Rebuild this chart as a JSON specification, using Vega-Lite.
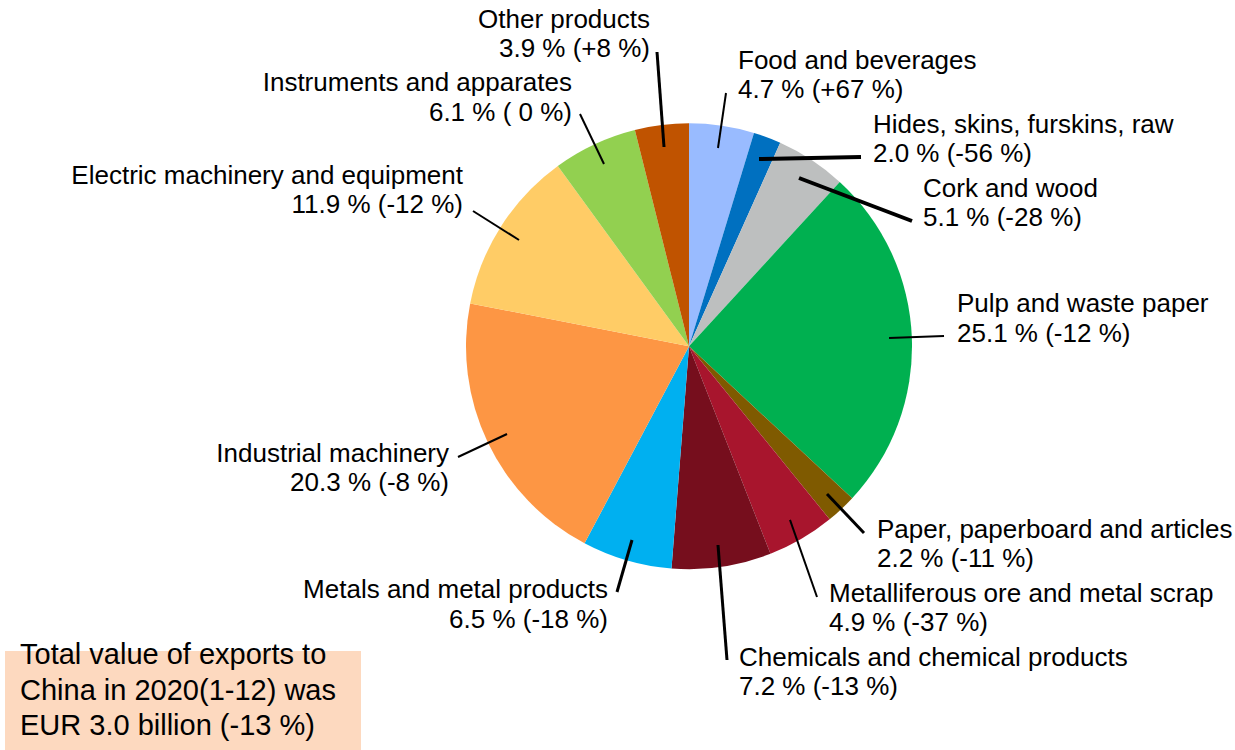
{
  "$schema": "https://vega.github.io/schema/vega-lite/v6.json",
  "width": 1235,
  "height": 750,
  "autosize": {"type": "none"},
  "padding": 0,
  "background": "white",
  "config": {"view": {"stroke": null}, "font": "Liberation Sans"},
  "datasets": {
    "slices": [
      {"ord": 1, "name": "Food and beverages", "share": 4.7, "change": "+67", "lx": 21.97, "ly": 124.35, "ax": 16.59, "ay": 113.59, "bx": 13.0, "by": 88.92},
      {"ord": 2, "name": "Hides, skins, furskins, raw", "share": 2.0, "change": "-56", "lx": 82.51, "ly": 95.65, "ax": 77.13, "ay": 84.89, "bx": 31.39, "by": 83.99},
      {"ord": 3, "name": "Cork and wood", "share": 5.1, "change": "-28", "lx": 104.93, "ly": 66.95, "ax": 100.0, "ay": 56.19, "bx": 49.33, "by": 75.47},
      {"ord": 4, "name": "Pulp and waste paper", "share": 25.1, "change": "-12", "lx": 120.18, "ly": 15.38, "ax": 114.35, "ay": 4.62, "bx": 89.69, "by": 3.72},
      {"ord": 5, "name": "Paper, paperboard and articles", "share": 2.2, "change": "-11", "lx": 84.3, "ly": -85.96, "ax": 78.48, "ay": -83.72, "bx": 61.88, "by": -66.23},
      {"ord": 6, "name": "Metalliferous ore and metal scrap", "share": 4.9, "change": "-37", "lx": 62.78, "ly": -114.66, "ax": 57.4, "ay": -112.42, "bx": 45.29, "by": -77.85},
      {"ord": 7, "name": "Chemicals and chemical products", "share": 7.2, "change": "-13", "lx": 22.42, "ly": -143.36, "ax": 17.04, "ay": -140.67, "bx": 13.0, "by": -89.1},
      {"ord": 8, "name": "Metals and metal products", "share": 6.5, "change": "-18", "lx": -36.32, "ly": -112.87, "ax": -32.29, "ay": -110.18, "bx": -25.56, "by": -86.86},
      {"ord": 9, "name": "Industrial machinery", "share": 20.3, "change": "-8", "lx": -107.62, "ly": -51.88, "ax": -103.59, "ay": -49.64, "bx": -81.61, "by": -39.33},
      {"ord": 10, "name": "Electric machinery and equipment", "share": 11.9, "change": "-12", "lx": -101.35, "ly": 72.78, "ax": -96.86, "ay": 60.67, "bx": -76.23, "by": 47.67},
      {"ord": 11, "name": "Instruments and apparates", "share": 6.1, "change": " 0", "lx": -52.47, "ly": 114.48, "ax": -48.88, "ay": 104.17, "bx": -38.12, "by": 81.74},
      {"ord": 12, "name": "Other products", "share": 3.9, "change": "+8", "lx": -17.49, "ly": 142.74, "ax": -14.35, "ay": 131.97, "bx": -11.21, "by": 89.37}
    ],
    "note": [
      {"text": "Total value of exports to\nChina in 2020(1-12) was\nEUR 3.0 billion (-13 %)"}
    ]
  },
  "layer": [
    {
      "data": {"name": "slices"},
      "mark": {"type": "arc", "outerRadius": 223},
      "encoding": {
        "theta": {"field": "share", "type": "quantitative", "stack": true},
        "order": {"field": "ord", "type": "quantitative"},
        "x": {"datum": 0, "type": "quantitative", "scale": {"domain": [-308.97, 244.84], "nice": false, "zero": false}, "axis": null},
        "y": {"datum": 0, "type": "quantitative", "scale": {"domain": [-181.03, 155.29], "nice": false, "zero": false}, "axis": null},
        "color": {
          "field": "name",
          "type": "nominal",
          "legend": null,
          "scale": {
            "domain": ["Food and beverages", "Hides, skins, furskins, raw", "Cork and wood", "Pulp and waste paper", "Paper, paperboard and articles", "Metalliferous ore and metal scrap", "Chemicals and chemical products", "Metals and metal products", "Industrial machinery", "Electric machinery and equipment", "Instruments and apparates", "Other products"],
            "range": ["#99BBFF", "#0070C0", "#BDBFBF", "#00B050", "#7F5A00", "#A8152D", "#760E1D", "#00B0F0", "#FD9644", "#FFCC66", "#92D050", "#C05300"]
          }
        }
      }
    },
    {
      "data": {"name": "slices"},
      "mark": {"type": "rule", "color": "black", "strokeCap": "butt"},
      "encoding": {
        "x": {"field": "ax", "type": "quantitative"},
        "y": {"field": "ay", "type": "quantitative"},
        "x2": {"field": "bx"},
        "y2": {"field": "by"},
        "strokeWidth": {
          "condition": [
            {"test": "datum.name === 'Hides, skins, furskins, raw' || datum.name === 'Cork and wood'", "value": 4},
            {"test": "datum.name === 'Other products' || datum.name === 'Metals and metal products' || datum.name === 'Chemicals and chemical products' || datum.name === 'Paper, paperboard and articles'", "value": 3}
          ],
          "value": 2
        }
      }
    },
    {
      "data": {"name": "slices"},
      "transform": [
        {"filter": "datum.lx < 0"},
        {"calculate": "datum.name + '\\n' + format(datum.share, '.1f') + ' % (' + datum.change + ' %)'", "as": "label"}
      ],
      "mark": {"type": "text", "align": "right", "baseline": "alphabetic", "fontSize": 26, "lineHeight": 29.5, "lineBreak": "\n", "color": "black"},
      "encoding": {
        "x": {"field": "lx", "type": "quantitative"},
        "y": {"field": "ly", "type": "quantitative"},
        "text": {"field": "label", "type": "nominal"}
      }
    },
    {
      "data": {"name": "slices"},
      "transform": [
        {"filter": "datum.lx >= 0"},
        {"calculate": "datum.name + '\\n' + format(datum.share, '.1f') + ' % (' + datum.change + ' %)'", "as": "label"}
      ],
      "mark": {"type": "text", "align": "left", "baseline": "alphabetic", "fontSize": 26, "lineHeight": 29.5, "lineBreak": "\n", "color": "black"},
      "encoding": {
        "x": {"field": "lx", "type": "quantitative"},
        "y": {"field": "ly", "type": "quantitative"},
        "text": {"field": "label", "type": "nominal"}
      }
    },
    {
      "data": {"name": "note"},
      "mark": {"type": "rect", "color": "#FDD9BF"},
      "encoding": {
        "x": {"datum": -306.73, "type": "quantitative"},
        "x2": {"datum": -147.09},
        "y": {"datum": -136.64, "type": "quantitative"},
        "y2": {"datum": -181.03}
      }
    },
    {
      "data": {"name": "note"},
      "mark": {"type": "text", "align": "left", "baseline": "alphabetic", "fontSize": 29, "lineHeight": 35.5, "lineBreak": "\n", "color": "black"},
      "encoding": {
        "x": {"datum": -300.0, "type": "quantitative"},
        "y": {"datum": -142.47, "type": "quantitative"},
        "text": {"field": "text", "type": "nominal"}
      }
    }
  ]
}
